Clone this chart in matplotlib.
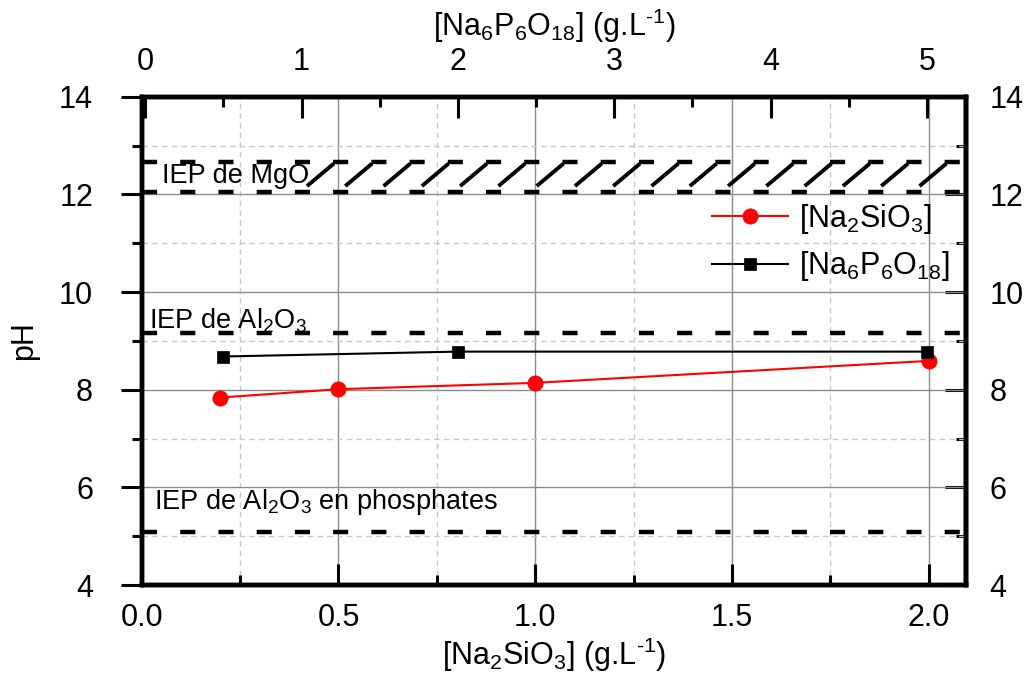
import matplotlib
matplotlib.use("Agg")
import matplotlib.pyplot as plt
import numpy as np
from matplotlib.ticker import MultipleLocator, FormatStrFormatter

plt.rcParams["font.family"] = ["Liberation Sans", "DejaVu Sans"]
plt.rcParams["mathtext.fontset"] = "custom"
plt.rcParams["mathtext.rm"] = "Liberation Sans"
plt.rcParams["mathtext.it"] = "Liberation Sans:italic"
plt.rcParams["mathtext.default"] = "regular"

# data
silicate_conc = [0.2, 0.5, 1.0, 2.0]          # g/L, bottom axis
silicate_ph = [7.84, 8.01, 8.14, 8.59]
phosphate_conc = [0.5, 2.0, 5.0]               # g/L, top axis
phosphate_ph = [8.68, 8.78, 8.78]

iep_mgo = (12.05, 12.67)
iep_al2o3 = 9.155
iep_al2o3_phos = 5.09

FS = 22
SPINE_W = 3.2
DASH = (0, (3.4, 5.2))
UNIT = "(g.L$^{\u20101}$)"

fig = plt.figure(figsize=(10.3, 6.75), dpi=100)
ax = fig.add_axes([0.1376, 0.1333, 0.8003, 0.7234])
ax.set_xlim(0, 2.095)
ax.set_ylim(4, 14)
ax.set_axisbelow(True)

ax.xaxis.set_major_locator(MultipleLocator(0.5))
ax.xaxis.set_minor_locator(MultipleLocator(0.25))
ax.yaxis.set_major_locator(MultipleLocator(2))
ax.yaxis.set_minor_locator(MultipleLocator(1))
ax.xaxis.set_major_formatter(FormatStrFormatter("%.1f"))

ax.grid(which="major", color="#8c8c8c", lw=1.0, ls="-")
ax.grid(which="minor", color="#c8c8c8", lw=1.0, ls=(0, (4, 3)))

# IEP reference lines
ax.axhline(iep_al2o3, color="black", lw=SPINE_W, ls=DASH, zorder=3)
ax.axhline(iep_al2o3_phos, color="black", lw=SPINE_W, ls=DASH, zorder=3)
for y in iep_mgo:
    ax.axhline(y, color="black", lw=SPINE_W, ls=DASH, zorder=3)

# hand-drawn hatch of the MgO band
hatch_start, hatch_step, hatch_dx = 0.42, 0.0973, 0.068
for x0 in np.arange(hatch_start, 2.03, hatch_step):
    ax.plot([x0, x0 + hatch_dx], [12.17, 12.63], color="black", lw=2.8,
            solid_capstyle="butt", zorder=3)

ax.text(0.051, 12.23, "IEP de MgO", fontsize=19.5, ha="left", va="baseline", zorder=4)
ax.text(0.019, 9.26, r"IEP de Al$_2$O$_3$", fontsize=19.5, ha="left", va="baseline", zorder=4)
ax.text(0.03, 5.556, r"IEP de Al$_2$O$_3$ en phosphates", fontsize=19.5,
        ha="left", va="baseline", zorder=4)

l1, = ax.plot(silicate_conc, silicate_ph, color="#ff0000", lw=1.5, marker="o",
              ms=11, mec="#ff0000", mew=0.5, zorder=5, label=r"[Na$_2$SiO$_3$]")

ax.set_xlabel(r"[Na$_2$SiO$_3$] " + UNIT, fontsize=FS, labelpad=2)
ax.set_ylabel("pH", fontsize=FS, labelpad=14)

ax.tick_params(axis="x", which="both", direction="in", width=2.2, labelsize=FS, pad=13)
ax.tick_params(axis="x", which="major", length=15)
ax.tick_params(axis="x", which="minor", length=7.5)
ax.tick_params(axis="y", which="both", direction="out", width=2.2, labelsize=FS, pad=20)
ax.tick_params(axis="y", which="major", length=15)
ax.tick_params(axis="y", which="minor", length=7.5)

# right axis: same pH scale, ticks pointing in
sec = ax.secondary_yaxis("right")
sec.yaxis.set_major_locator(MultipleLocator(2))
sec.yaxis.set_minor_locator(MultipleLocator(1))
sec.tick_params(which="both", direction="in", width=2.2, labelsize=FS, pad=17)
sec.tick_params(which="major", length=15)
sec.tick_params(which="minor", length=7.5)

# top axis for hexametaphosphate
ax2 = ax.twiny()
ax2.set_xlim(-0.022, 5.25)
ax2.xaxis.set_major_locator(MultipleLocator(1))
ax2.xaxis.set_minor_locator(MultipleLocator(0.5))
ax2.tick_params(axis="x", which="both", direction="in", width=2.2, labelsize=FS, pad=14)
ax2.tick_params(axis="x", which="major", length=15)
ax2.tick_params(axis="x", which="minor", length=7.5)
ax2.set_xlabel(r"[Na$_6$P$_6$O$_{18}$] " + UNIT, fontsize=FS, labelpad=8)

l2, = ax2.plot(phosphate_conc, phosphate_ph, color="black", lw=1.5, marker="s",
               ms=9, mec="black", mew=0.5, zorder=6, label=r"[Na$_6$P$_6$O$_{18}$]")

for a in (ax, ax2, sec):
    for s in a.spines.values():
        s.set_linewidth(SPINE_W)

leg = ax2.legend(handles=[l1, l2], loc="upper right", bbox_to_anchor=(0.995, 0.81),
                 frameon=False, fontsize=FS, handlelength=2.5, handletextpad=0.35,
                 borderaxespad=0, labelspacing=0.45)

fig.savefig("out.png", dpi=100)
